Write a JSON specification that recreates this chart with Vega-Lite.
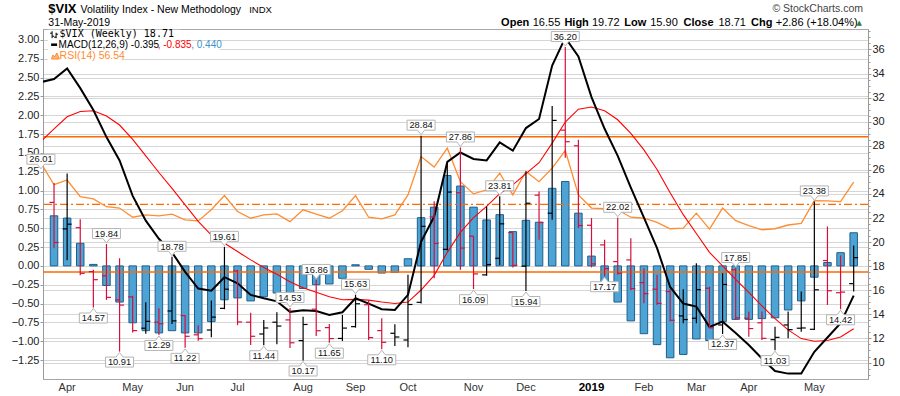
{
"$schema": "https://vega.github.io/schema/vega-lite/v6.json",
"width": 825, "height": 350,
"autosize": {"type": "none"},
"padding": {"left": 43, "top": 29, "right": 32, "bottom": 17},
"background": "#ffffff",
"config": {
  "view": {"stroke": "#a8a8a8", "strokeWidth": 1},
  "font": "Liberation Sans",
  "axis": {"labelFont": "Liberation Sans", "labelFontSize": 11, "labelColor": "#222222", "gridColor": "#d6d6d6", "gridWidth": 1, "domainColor": "#9a9a9a", "tickColor": "#9a9a9a"}
},
"datasets": {
"w": [
{"d":"2018-03-19","macd":2.44,"sig":1.65,"rsi":62.2},
{"d":"2018-03-26","o":23.3,"h":24.9,"l":19.5,"c":19.97,"dir":"down","macd":2.48,"sig":1.82,"hist":0.665,"rsi":55.8},
{"d":"2018-04-02","o":21.1,"h":25.7,"l":18.5,"c":21.49,"dir":"up","macd":2.62,"sig":1.98,"hist":0.635,"rsi":57.2},
{"d":"2018-04-09","o":21.2,"h":21.9,"l":17.25,"c":17.41,"dir":"down","macd":2.36,"sig":2.05,"hist":0.30,"rsi":52.3},
{"d":"2018-04-16","o":17.55,"h":17.7,"l":14.57,"c":16.88,"dir":"down","macd":2.07,"sig":2.06,"hist":0.02,"rsi":51.6},
{"d":"2018-04-23","o":17.2,"h":19.84,"l":15.2,"c":15.41,"dir":"down","macd":1.71,"sig":1.99,"hist":-0.26,"rsi":49.3},
{"d":"2018-04-30","o":15.2,"h":18.66,"l":10.91,"c":14.77,"dir":"down","macd":1.40,"sig":1.87,"hist":-0.48,"rsi":48.9},
{"d":"2018-05-07","o":15.45,"h":15.55,"l":12.5,"c":12.65,"dir":"down","macd":0.93,"sig":1.68,"hist":-0.755,"rsi":46.2},
{"d":"2018-05-14","o":12.85,"h":15.0,"l":12.4,"c":13.42,"dir":"up","macd":0.60,"sig":1.46,"hist":-0.86,"rsi":46.9},
{"d":"2018-05-21","o":13.35,"h":14.5,"l":12.29,"c":13.22,"dir":"down","macd":0.36,"sig":1.24,"hist":-0.89,"rsi":46.6},
{"d":"2018-05-28","o":14.28,"h":18.78,"l":13.2,"c":13.46,"dir":"up","macd":0.18,"sig":1.03,"hist":-0.86,"rsi":47.1},
{"d":"2018-06-04","o":13.9,"h":13.95,"l":11.22,"c":12.18,"dir":"down","macd":-0.08,"sig":0.81,"hist":-0.89,"rsi":45.4},
{"d":"2018-06-11","o":12.3,"h":13.1,"l":11.8,"c":11.98,"dir":"down","macd":-0.30,"sig":0.59,"hist":-0.89,"rsi":45.1},
{"d":"2018-06-18","o":12.7,"h":15.15,"l":12.1,"c":13.77,"dir":"up","macd":-0.33,"sig":0.41,"hist":-0.74,"rsi":48.4},
{"d":"2018-06-25","o":14.5,"h":19.61,"l":14.43,"c":16.09,"dir":"up","macd":-0.15,"sig":0.30,"hist":-0.45,"rsi":52.6},
{"d":"2018-07-02","o":17.6,"h":17.7,"l":13.1,"c":13.37,"dir":"down","macd":-0.23,"sig":0.19,"hist":-0.425,"rsi":47.9},
{"d":"2018-07-09","o":13.35,"h":14.14,"l":11.46,"c":12.18,"dir":"down","macd":-0.385,"sig":0.08,"hist":-0.465,"rsi":45.9},
{"d":"2018-07-16","o":12.37,"h":13.54,"l":11.44,"c":12.87,"dir":"up","macd":-0.43,"sig":-0.02,"hist":-0.41,"rsi":46.9},
{"d":"2018-07-23","o":13.35,"h":14.18,"l":11.52,"c":13.03,"dir":"up","macd":-0.47,"sig":-0.11,"hist":-0.36,"rsi":47.2},
{"d":"2018-07-30","o":13.54,"h":14.53,"l":11.2,"c":11.64,"dir":"down","macd":-0.61,"sig":-0.21,"hist":-0.39,"rsi":44.9},
{"d":"2018-08-06","o":11.82,"h":13.81,"l":10.17,"c":13.16,"dir":"up","macd":-0.59,"sig":-0.29,"hist":-0.30,"rsi":48.4},
{"d":"2018-08-13","o":14.43,"h":16.86,"l":12.2,"c":12.64,"dir":"down","macd":-0.60,"sig":-0.35,"hist":-0.25,"rsi":47.1},
{"d":"2018-08-20","o":12.9,"h":13.2,"l":11.65,"c":11.99,"dir":"down","macd":-0.65,"sig":-0.41,"hist":-0.24,"rsi":45.9},
{"d":"2018-08-27","o":12.0,"h":13.95,"l":11.79,"c":12.86,"dir":"up","macd":-0.615,"sig":-0.45,"hist":-0.165,"rsi":48.1},
{"d":"2018-09-03","o":12.98,"h":15.63,"l":12.9,"c":14.88,"dir":"up","macd":-0.43,"sig":-0.445,"hist":0.015,"rsi":52.6},
{"d":"2018-09-10","o":14.8,"h":15.2,"l":11.87,"c":12.07,"dir":"down","macd":-0.50,"sig":-0.455,"hist":-0.045,"rsi":46.2},
{"d":"2018-09-17","o":12.65,"h":13.68,"l":11.10,"c":11.68,"dir":"down","macd":-0.575,"sig":-0.48,"hist":-0.095,"rsi":45.7},
{"d":"2018-09-24","o":12.43,"h":13.18,"l":11.37,"c":12.12,"dir":"up","macd":-0.585,"sig":-0.50,"hist":-0.085,"rsi":46.9},
{"d":"2018-10-01","o":11.87,"h":17.28,"l":11.27,"c":14.82,"dir":"up","macd":-0.385,"sig":-0.48,"hist":0.095,"rsi":52.8},
{"d":"2018-10-08","o":15.0,"h":28.84,"l":14.9,"c":21.31,"dir":"up","macd":0.32,"sig":-0.32,"hist":0.64,"rsi":64.1},
{"d":"2018-10-15","o":22.1,"h":23.4,"l":17.0,"c":19.89,"dir":"down","macd":0.655,"sig":-0.125,"hist":0.78,"rsi":61.0},
{"d":"2018-10-22","o":19.4,"h":26.6,"l":19.3,"c":24.16,"dir":"up","macd":1.38,"sig":0.18,"hist":1.20,"rsi":66.6},
{"d":"2018-10-29","o":24.1,"h":27.86,"l":17.7,"c":19.51,"dir":"down","macd":1.505,"sig":0.445,"hist":1.06,"rsi":56.7},
{"d":"2018-11-05","o":20.5,"h":20.5,"l":16.09,"c":17.36,"dir":"down","macd":1.42,"sig":0.64,"hist":0.78,"rsi":53.1},
{"d":"2018-11-12","o":17.28,"h":22.96,"l":17.2,"c":18.14,"dir":"up","macd":1.40,"sig":0.79,"hist":0.61,"rsi":54.3},
{"d":"2018-11-19","o":18.66,"h":23.81,"l":18.1,"c":21.52,"dir":"up","macd":1.64,"sig":0.96,"hist":0.68,"rsi":59.2},
{"d":"2018-11-26","o":20.8,"h":20.8,"l":17.9,"c":18.07,"dir":"down","macd":1.53,"sig":1.075,"hist":0.455,"rsi":52.8},
{"d":"2018-12-03","o":18.0,"h":25.86,"l":15.94,"c":23.23,"dir":"up","macd":1.83,"sig":1.225,"hist":0.605,"rsi":59.7},
{"d":"2018-12-10","o":23.9,"h":24.2,"l":20.19,"c":21.63,"dir":"down","macd":1.95,"sig":1.37,"hist":0.58,"rsi":56.7},
{"d":"2018-12-17","o":22.4,"h":31.3,"l":21.85,"c":30.11,"dir":"up","macd":2.66,"sig":1.63,"hist":1.03,"rsi":60.7},
{"d":"2018-12-24","o":29.3,"h":36.20,"l":27.0,"c":28.34,"dir":"down","macd":3.03,"sig":1.91,"hist":1.12,"rsi":65.9},
{"d":"2018-12-31","o":28.0,"h":28.5,"l":21.16,"c":21.38,"dir":"down","macd":2.78,"sig":2.08,"hist":0.70,"rsi":52.8},
{"d":"2019-01-07","o":21.4,"h":22.0,"l":17.9,"c":18.19,"dir":"down","macd":2.24,"sig":2.11,"hist":0.13,"rsi":48.9},
{"d":"2019-01-14","o":19.77,"h":20.19,"l":17.17,"c":17.80,"dir":"down","macd":1.82,"sig":2.06,"hist":-0.24,"rsi":48.7},
{"d":"2019-01-21","o":18.38,"h":22.02,"l":17.28,"c":17.42,"dir":"down","macd":1.46,"sig":1.94,"hist":-0.48,"rsi":48.4},
{"d":"2019-01-28","o":18.52,"h":20.33,"l":16.0,"c":16.14,"dir":"down","macd":1.04,"sig":1.76,"hist":-0.73,"rsi":46.2},
{"d":"2019-02-04","o":16.64,"h":17.83,"l":14.92,"c":15.72,"dir":"down","macd":0.64,"sig":1.54,"hist":-0.90,"rsi":45.9},
{"d":"2019-02-11","o":16.09,"h":17.28,"l":14.78,"c":14.91,"dir":"down","macd":0.235,"sig":1.28,"hist":-1.045,"rsi":44.7},
{"d":"2019-02-18","o":15.9,"h":16.09,"l":13.4,"c":13.51,"dir":"down","macd":-0.28,"sig":0.97,"hist":-1.22,"rsi":42.8},
{"d":"2019-02-25","o":13.87,"h":16.09,"l":13.26,"c":13.57,"dir":"up","macd":-0.50,"sig":0.68,"hist":-1.175,"rsi":43.0},
{"d":"2019-03-04","o":13.68,"h":18.25,"l":13.26,"c":16.05,"dir":"up","macd":-0.54,"sig":0.43,"hist":-0.97,"rsi":47.4},
{"d":"2019-03-11","o":16.17,"h":16.3,"l":12.85,"c":12.88,"dir":"down","macd":-0.81,"sig":0.18,"hist":-0.99,"rsi":42.7},
{"d":"2019-03-18","o":13.12,"h":17.42,"l":12.37,"c":16.48,"dir":"up","macd":-0.74,"sig":0.00,"hist":-0.74,"rsi":48.9},
{"d":"2019-03-25","o":17.7,"h":17.85,"l":13.54,"c":13.71,"dir":"down","macd":-0.89,"sig":-0.18,"hist":-0.71,"rsi":45.2},
{"d":"2019-04-01","o":13.68,"h":14.23,"l":12.15,"c":12.82,"dir":"down","macd":-1.05,"sig":-0.35,"hist":-0.71,"rsi":43.7},
{"d":"2019-04-08","o":13.3,"h":14.23,"l":11.87,"c":12.01,"dir":"down","macd":-1.23,"sig":-0.53,"hist":-0.70,"rsi":42.5},
{"d":"2019-04-15","o":11.9,"h":12.98,"l":11.03,"c":12.09,"dir":"up","macd":-1.395,"sig":-0.70,"hist":-0.69,"rsi":42.8},
{"d":"2019-04-22","o":13.12,"h":14.23,"l":12.01,"c":12.73,"dir":"up","macd":-1.43,"sig":-0.85,"hist":-0.585,"rsi":43.9},
{"d":"2019-04-29","o":12.85,"h":15.9,"l":12.56,"c":12.87,"dir":"up","macd":-1.43,"sig":-0.965,"hist":-0.465,"rsi":44.4},
{"d":"2019-05-06","o":12.76,"h":23.38,"l":12.7,"c":16.04,"dir":"up","macd":-1.14,"sig":-1.00,"hist":-0.15,"rsi":51.1},
{"d":"2019-05-13","o":18.47,"h":21.3,"l":14.78,"c":15.96,"dir":"down","macd":-0.95,"sig":-0.99,"hist":0.045,"rsi":51.0},
{"d":"2019-05-20","o":15.8,"h":18.9,"l":14.42,"c":15.85,"dir":"down","macd":-0.76,"sig":-0.945,"hist":0.175,"rsi":50.8},
{"d":"2019-05-27","o":16.55,"h":19.72,"l":15.90,"c":18.71,"dir":"up","macd":-0.395,"sig":-0.835,"hist":0.44,"rsi":56.54}
],
"lab": [
{"d":"2018-03-19","v":26.01,"kind":"high"},
{"d":"2018-04-16","v":14.57,"kind":"low"},
{"d":"2018-04-23","v":19.84,"kind":"high"},
{"d":"2018-04-30","v":10.91,"kind":"low"},
{"d":"2018-05-21","v":12.29,"kind":"low"},
{"d":"2018-05-28","v":18.78,"kind":"high"},
{"d":"2018-06-04","v":11.22,"kind":"low"},
{"d":"2018-06-25","v":19.61,"kind":"high"},
{"d":"2018-07-16","v":11.44,"kind":"low"},
{"d":"2018-07-30","v":14.53,"kind":"high"},
{"d":"2018-08-06","v":10.17,"kind":"low"},
{"d":"2018-08-13","v":16.86,"kind":"high"},
{"d":"2018-08-20","v":11.65,"kind":"low"},
{"d":"2018-09-03","v":15.63,"kind":"high"},
{"d":"2018-09-17","v":11.10,"kind":"low"},
{"d":"2018-10-08","v":28.84,"kind":"high"},
{"d":"2018-10-29","v":27.86,"kind":"high"},
{"d":"2018-11-05","v":16.09,"kind":"low"},
{"d":"2018-11-19","v":23.81,"kind":"high"},
{"d":"2018-12-03","v":15.94,"kind":"low"},
{"d":"2018-12-24","v":36.20,"kind":"high"},
{"d":"2019-01-14","v":17.17,"kind":"low"},
{"d":"2019-01-21","v":22.02,"kind":"high"},
{"d":"2019-03-18","v":12.37,"kind":"low"},
{"d":"2019-03-25","v":17.85,"kind":"high"},
{"d":"2019-04-15","v":11.03,"kind":"low"},
{"d":"2019-05-06","v":23.38,"kind":"high"},
{"d":"2019-05-20","v":14.42,"kind":"low"}
],
"months": [
{"d":"2018-04-02","m":"Apr"},{"d":"2018-05-07","m":"May"},{"d":"2018-06-04","m":"Jun"},{"d":"2018-07-02","m":"Jul"},
{"d":"2018-08-06","m":"Aug"},{"d":"2018-09-03","m":"Sep"},{"d":"2018-10-01","m":"Oct"},{"d":"2018-11-05","m":"Nov"},
{"d":"2018-12-03","m":"Dec"},{"d":"2019-02-04","m":"Feb"},{"d":"2019-03-04","m":"Mar"},{"d":"2019-04-01","m":"Apr"},{"d":"2019-05-06","m":"May"}
],
"years": [{"d":"2019-01-07","m":"2019"}]
},
"resolve": {"scale": {"y": "independent"}},
"layer": [
{
 "data": {"name": "w"},
 "mark": {"type": "bar", "size": 7.5, "fill": "#4ea3d5", "stroke": "#1d5f8c", "strokeWidth": 1, "clip": true},
 "encoding": {
  "x": {"field": "d", "type": "temporal",
   "scale": {"type": "utc", "domain": [{"year":2018,"month":3,"date":22,"hours":18,"minutes":46,"utc":true},{"year":2019,"month":5,"date":31,"hours":23,"minutes":30,"utc":true}]},
   "axis": {"title": null, "grid": true, "labels": false, "ticks": true, "tickSize": 3, "domain": true,
    "values": [
     {"year":2018,"month":3,"date":26,"utc":true},
     {"year":2018,"month":4,"date":2,"utc":true},{"year":2018,"month":4,"date":9,"utc":true},{"year":2018,"month":4,"date":16,"utc":true},{"year":2018,"month":4,"date":23,"utc":true},{"year":2018,"month":4,"date":30,"utc":true},
     {"year":2018,"month":5,"date":7,"utc":true},{"year":2018,"month":5,"date":14,"utc":true},{"year":2018,"month":5,"date":21,"utc":true},{"year":2018,"month":5,"date":28,"utc":true},
     {"year":2018,"month":6,"date":4,"utc":true},{"year":2018,"month":6,"date":11,"utc":true},{"year":2018,"month":6,"date":18,"utc":true},{"year":2018,"month":6,"date":25,"utc":true},
     {"year":2018,"month":7,"date":2,"utc":true},{"year":2018,"month":7,"date":9,"utc":true},{"year":2018,"month":7,"date":16,"utc":true},{"year":2018,"month":7,"date":23,"utc":true},{"year":2018,"month":7,"date":30,"utc":true},
     {"year":2018,"month":8,"date":6,"utc":true},{"year":2018,"month":8,"date":13,"utc":true},{"year":2018,"month":8,"date":20,"utc":true},{"year":2018,"month":8,"date":27,"utc":true},
     {"year":2018,"month":9,"date":3,"utc":true},{"year":2018,"month":9,"date":10,"utc":true},{"year":2018,"month":9,"date":17,"utc":true},{"year":2018,"month":9,"date":24,"utc":true},
     {"year":2018,"month":10,"date":1,"utc":true},{"year":2018,"month":10,"date":8,"utc":true},{"year":2018,"month":10,"date":15,"utc":true},{"year":2018,"month":10,"date":22,"utc":true},{"year":2018,"month":10,"date":29,"utc":true},
     {"year":2018,"month":11,"date":5,"utc":true},{"year":2018,"month":11,"date":12,"utc":true},{"year":2018,"month":11,"date":19,"utc":true},{"year":2018,"month":11,"date":26,"utc":true},
     {"year":2018,"month":12,"date":3,"utc":true},{"year":2018,"month":12,"date":10,"utc":true},{"year":2018,"month":12,"date":17,"utc":true},{"year":2018,"month":12,"date":24,"utc":true},{"year":2018,"month":12,"date":31,"utc":true},
     {"year":2019,"month":1,"date":7,"utc":true},{"year":2019,"month":1,"date":14,"utc":true},{"year":2019,"month":1,"date":21,"utc":true},{"year":2019,"month":1,"date":28,"utc":true},
     {"year":2019,"month":2,"date":4,"utc":true},{"year":2019,"month":2,"date":11,"utc":true},{"year":2019,"month":2,"date":18,"utc":true},{"year":2019,"month":2,"date":25,"utc":true},
     {"year":2019,"month":3,"date":4,"utc":true},{"year":2019,"month":3,"date":11,"utc":true},{"year":2019,"month":3,"date":18,"utc":true},{"year":2019,"month":3,"date":25,"utc":true},
     {"year":2019,"month":4,"date":1,"utc":true},{"year":2019,"month":4,"date":8,"utc":true},{"year":2019,"month":4,"date":15,"utc":true},{"year":2019,"month":4,"date":22,"utc":true},{"year":2019,"month":4,"date":29,"utc":true},
     {"year":2019,"month":5,"date":6,"utc":true},{"year":2019,"month":5,"date":13,"utc":true},{"year":2019,"month":5,"date":20,"utc":true},{"year":2019,"month":5,"date":27,"utc":true}
    ],
    "gridOpacity": {"condition": {"test": "utcdate(datum.value) <= 7", "value": 1}, "value": 0},
    "gridColor": {"condition": {"test": "utcmonth(datum.value) == 0", "value": "#8c8c8c"}, "value": "#d6d6d6"}
   }},
  "y": {"field": "hist", "type": "quantitative", "scale": {"domain": [-1.5015, 3.145], "nice": false, "zero": false},
   "axis": {"orient": "left", "title": null, "grid": true, "format": ".2f", "tickSize": 3, "labelPadding": 1, "labelOverlap": false,
    "values": [-1.25,-1,-0.75,-0.5,-0.25,0,0.25,0.5,0.75,1,1.25,1.5,1.75,2,2.25,2.5,2.75,3]}},
  "y2": {"datum": 0}
 }
},
{
 "data": {"values": [{"lvl": 70}, {"lvl": 30}]},
 "mark": {"type": "rule", "color": "#ff6a00", "strokeWidth": 1.5},
 "encoding": {"y": {"field": "lvl", "type": "quantitative", "scale": {"domain": [-1.58, 101.79], "nice": false, "zero": false}, "axis": null}}
},
{
 "data": {"values": [{"lvl": 50}]},
 "mark": {"type": "rule", "color": "#ff6a00", "strokeWidth": 1.3, "strokeDash": [8, 3, 2, 3]},
 "encoding": {"y": {"field": "lvl", "type": "quantitative", "scale": {"domain": [-1.58, 101.79], "nice": false, "zero": false}, "axis": null}}
},
{
 "data": {"name": "w"},
 "mark": {"type": "line", "color": "#ff8c30", "strokeWidth": 1.3, "clip": true},
 "encoding": {
  "x": {"field": "d", "type": "temporal", "axis": null},
  "y": {"field": "rsi", "type": "quantitative", "scale": {"domain": [-1.58, 101.79], "nice": false, "zero": false}, "axis": null}
 }
},
{
 "data": {"name": "w"},
 "mark": {"type": "line", "color": "#ff0000", "strokeWidth": 1.1, "clip": true},
 "encoding": {
  "x": {"field": "d", "type": "temporal", "axis": null},
  "y": {"field": "sig", "type": "quantitative", "scale": {"domain": [-1.5015, 3.145], "nice": false, "zero": false}, "axis": null}
 }
},
{
 "data": {"name": "w"},
 "mark": {"type": "line", "color": "#000000", "strokeWidth": 2, "clip": true},
 "encoding": {
  "x": {"field": "d", "type": "temporal", "axis": null},
  "y": {"field": "macd", "type": "quantitative", "scale": {"domain": [-1.5015, 3.145], "nice": false, "zero": false}, "axis": null}
 }
},
{
 "data": {"name": "w"},
 "mark": {"type": "rule", "strokeWidth": 1.2, "clip": true},
 "encoding": {
  "x": {"field": "d", "type": "temporal", "axis": null},
  "y": {"field": "l", "type": "quantitative", "scale": {"domain": [8.632, 37.70], "nice": false, "zero": false},
   "axis": {"orient": "right", "title": null, "grid": true, "labelOverlap": false, "labelPadding": 1,
    "values": [9,9.5,10,10.5,11,11.5,12,12.5,13,13.5,14,14.5,15,15.5,16,16.5,17,17.5,18,18.5,19,19.5,20,20.5,21,21.5,22,22.5,23,23.5,24,24.5,25,25.5,26,26.5,27,27.5,28,28.5,29,29.5,30,30.5,31,31.5,32,32.5,33,33.5,34,34.5,35,35.5,36,36.5,37,37.5],
    "labelExpr": "datum.value % 2 == 0 ? format(datum.value, 'd') : ''",
    "tickSize": {"condition": {"test": "datum.value % 2 == 0", "value": 3}, "value": 2},
    "gridOpacity": {"condition": {"test": "datum.value % 2 == 0", "value": 1}, "value": 0}}},
  "y2": {"field": "h"},
  "color": {"field": "dir", "type": "nominal", "scale": {"domain": ["up", "down"], "range": ["#000000", "#d60f3c"]}, "legend": null}
 }
},
{
 "data": {"name": "w"},
 "mark": {"type": "rule", "strokeWidth": 1.2, "xOffset": -4.5, "x2Offset": 0, "clip": true},
 "encoding": {
  "x": {"field": "d", "type": "temporal", "axis": null},
  "x2": {"field": "d"},
  "y": {"field": "o", "type": "quantitative", "scale": {"domain": [8.632, 37.70], "nice": false, "zero": false}, "axis": null},
  "color": {"field": "dir", "type": "nominal", "scale": {"domain": ["up", "down"], "range": ["#000000", "#d60f3c"]}, "legend": null}
 }
},
{
 "data": {"name": "w"},
 "mark": {"type": "rule", "strokeWidth": 1.2, "xOffset": 0, "x2Offset": 4.5, "clip": true},
 "encoding": {
  "x": {"field": "d", "type": "temporal", "axis": null},
  "x2": {"field": "d"},
  "y": {"field": "c", "type": "quantitative", "scale": {"domain": [8.632, 37.70], "nice": false, "zero": false}, "axis": null},
  "color": {"field": "dir", "type": "nominal", "scale": {"domain": ["up", "down"], "range": ["#000000", "#d60f3c"]}, "legend": null}
 }
},
{
 "data": {"name": "lab"},
 "mark": {"type": "point", "filled": true, "fill": "#ffffff", "stroke": "#b5b5b5", "strokeWidth": 1, "size": 4, "opacity": 1},
 "encoding": {
  "x": {"field": "d", "type": "temporal", "axis": null},
  "y": {"field": "v", "type": "quantitative", "scale": {"domain": [8.632, 37.70], "nice": false, "zero": false}, "axis": null},
  "shape": {"field": "kind", "type": "nominal", "legend": null,
   "scale": {"domain": ["high", "low"], "range": ["M-14,-15.5H14V-5.5H3.5L0,-1L-3.5,-5.5H-14Z", "M-14,15.5H14V5.5H3.5L0,1L-3.5,5.5H-14Z"]}}
 }
},
{
 "data": {"name": "lab"},
 "transform": [{"filter": "datum.kind == 'high'"}],
 "mark": {"type": "text", "dy": -10.3, "fontSize": 9.3, "font": "Liberation Sans", "color": "#111111", "baseline": "middle", "align": "center"},
 "encoding": {
  "x": {"field": "d", "type": "temporal", "axis": null},
  "y": {"field": "v", "type": "quantitative", "scale": {"domain": [8.632, 37.70], "nice": false, "zero": false}, "axis": null},
  "text": {"field": "v", "type": "quantitative", "format": ".2f"}
 }
},
{
 "data": {"name": "lab"},
 "transform": [{"filter": "datum.kind == 'low'"}],
 "mark": {"type": "text", "dy": 10.5, "fontSize": 9.3, "font": "Liberation Sans", "color": "#111111", "baseline": "middle", "align": "center"},
 "encoding": {
  "x": {"field": "d", "type": "temporal", "axis": null},
  "y": {"field": "v", "type": "quantitative", "scale": {"domain": [8.632, 37.70], "nice": false, "zero": false}, "axis": null},
  "text": {"field": "v", "type": "quantitative", "format": ".2f"}
 }
},
{
 "data": {"name": "months"},
 "mark": {"type": "text", "fontSize": 11, "font": "Liberation Sans", "color": "#333333", "baseline": "alphabetic", "align": "center"},
 "encoding": {
  "x": {"field": "d", "type": "temporal", "axis": null},
  "y": {"datum": 7.62, "type": "quantitative", "scale": {"domain": [8.632, 37.70], "nice": false, "zero": false}, "axis": null},
  "text": {"field": "m", "type": "nominal"}
 }
},
{
 "data": {"name": "years"},
 "mark": {"type": "text", "fontSize": 11.5, "fontWeight": "bold", "font": "Liberation Sans", "color": "#000000", "baseline": "alphabetic", "align": "center"},
 "encoding": {
  "x": {"field": "d", "type": "temporal", "axis": null},
  "y": {"datum": 7.62, "type": "quantitative", "scale": {"domain": [8.632, 37.70], "nice": false, "zero": false}, "axis": null},
  "text": {"field": "m", "type": "nominal"}
 }
},
{
 "data": {"values": [{}]},
 "mark": {"type": "rect", "fill": "#ffffff"},
 "encoding": {
  "x": {"datum": {"year":2018,"month":3,"date":22,"hours":19,"utc":true}, "type": "temporal", "axis": null},
  "x2": {"datum": {"year":2018,"month":6,"date":1,"hours":3,"minutes":35,"utc":true}},
  "y": {"datum": 37.64, "type": "quantitative", "scale": {"domain": [8.632, 37.70], "nice": false, "zero": false}, "axis": null},
  "y2": {"datum": 36.687}
 }
},
{
 "data": {"values": [{}]},
 "mark": {"type": "rect", "fill": "#ffffff"},
 "encoding": {
  "x": {"datum": {"year":2018,"month":3,"date":22,"hours":19,"utc":true}, "type": "temporal", "axis": null},
  "x2": {"datum": {"year":2018,"month":6,"date":22,"hours":10,"utc":true}},
  "y": {"datum": 36.687, "type": "quantitative", "scale": {"domain": [8.632, 37.70], "nice": false, "zero": false}, "axis": null},
  "y2": {"datum": 35.856}
 }
},
{
 "data": {"values": [{}]},
 "mark": {"type": "rect", "fill": "#ffffff"},
 "encoding": {
  "x": {"datum": {"year":2018,"month":3,"date":22,"hours":19,"utc":true}, "type": "temporal", "axis": null},
  "x2": {"datum": {"year":2018,"month":5,"date":1,"hours":4,"utc":true}},
  "y": {"datum": 35.856, "type": "quantitative", "scale": {"domain": [8.632, 37.70], "nice": false, "zero": false}, "axis": null},
  "y2": {"datum": 35.024}
 }
},
{
 "data": {"values": [{}]},
 "mark": {"type": "point", "filled": false, "color": "#000000", "strokeWidth": 1, "size": 4, "opacity": 1, "shape": "M-2,-3.5V3.5M-4,-1.5H-2M-2,1.5H0M2,-2V3.5M0,2.5H2M2,-0.5H4"},
 "encoding": {
  "x": {"datum": {"year":2018,"month":3,"date":26,"hours":1,"utc":true}, "type": "temporal", "axis": null},
  "y": {"datum": 37.227, "type": "quantitative", "scale": {"domain": [8.632, 37.70], "nice": false, "zero": false}, "axis": null}
 }
},
{
 "data": {"values": [{}]},
 "mark": {"type": "point", "filled": false, "color": "#000000", "strokeWidth": 2.5, "size": 4, "opacity": 1, "shape": "M-3,0H3"},
 "encoding": {
  "x": {"datum": {"year":2018,"month":3,"date":26,"hours":1,"utc":true}, "type": "temporal", "axis": null},
  "y": {"datum": 36.396, "type": "quantitative", "scale": {"domain": [8.632, 37.70], "nice": false, "zero": false}, "axis": null}
 }
},
{
 "data": {"values": [{}]},
 "mark": {"type": "point", "filled": true, "fill": "#ffb47a", "stroke": "#ff8c30", "strokeWidth": 1, "size": 4, "opacity": 1, "shape": "M-4,3L-2.5,-1L-1,1L1.5,-3L4,3Z"},
 "encoding": {
  "x": {"datum": {"year":2018,"month":3,"date":26,"hours":18,"utc":true}, "type": "temporal", "axis": null},
  "y": {"datum": 35.457, "type": "quantitative", "scale": {"domain": [8.632, 37.70], "nice": false, "zero": false}, "axis": null}
 }
},
{
 "data": {"values": [{}]},
 "mark": {"type": "text", "text": "$VIX (Weekly) 18.71", "font": "DejaVu Sans Mono", "fontSize": 10, "color": "#000000", "align": "left", "baseline": "alphabetic"},
 "encoding": {
  "x": {"datum": {"year":2018,"month":3,"date":28,"hours":23,"utc":true}, "type": "temporal", "axis": null},
  "y": {"datum": 37.02, "type": "quantitative", "scale": {"domain": [8.632, 37.70], "nice": false, "zero": false}, "axis": null}
 }
},
{
 "data": {"values": [{}]},
 "mark": {"type": "text", "text": "MACD(12,26,9) -0.395", "font": "Liberation Sans", "fontSize": 10, "color": "#000000", "align": "left", "baseline": "alphabetic"},
 "encoding": {
  "x": {"datum": {"year":2018,"month":3,"date":28,"hours":10,"utc":true}, "type": "temporal", "axis": null},
  "y": {"datum": 36.11, "type": "quantitative", "scale": {"domain": [8.632, 37.70], "nice": false, "zero": false}, "axis": null}
 }
},
{
 "data": {"values": [{}]},
 "mark": {"type": "text", "text": ", -0.835", "font": "Liberation Sans", "fontSize": 10, "color": "#ff0000", "align": "left", "baseline": "alphabetic"},
 "encoding": {
  "x": {"datum": {"year":2018,"month":5,"date":20,"hours":8,"utc":true}, "type": "temporal", "axis": null},
  "y": {"datum": 36.11, "type": "quantitative", "scale": {"domain": [8.632, 37.70], "nice": false, "zero": false}, "axis": null}
 }
},
{
 "data": {"values": [{}]},
 "mark": {"type": "text", "text": ", 0.440", "font": "Liberation Sans", "fontSize": 10, "color": "#3a94cf", "align": "left", "baseline": "alphabetic"},
 "encoding": {
  "x": {"datum": {"year":2018,"month":6,"date":7,"hours":6,"utc":true}, "type": "temporal", "axis": null},
  "y": {"datum": 36.11, "type": "quantitative", "scale": {"domain": [8.632, 37.70], "nice": false, "zero": false}, "axis": null}
 }
},
{
 "data": {"values": [{}]},
 "mark": {"type": "text", "text": "RSI(14) 56.54", "font": "Liberation Sans", "fontSize": 10.5, "color": "#ff8c30", "align": "left", "baseline": "alphabetic"},
 "encoding": {
  "x": {"datum": {"year":2018,"month":3,"date":28,"hours":23,"utc":true}, "type": "temporal", "axis": null},
  "y": {"datum": 35.19, "type": "quantitative", "scale": {"domain": [8.632, 37.70], "nice": false, "zero": false}, "axis": null}
 }
},
{
 "data": {"values": [{}]},
 "mark": {"type": "text", "text": "$VIX", "font": "Liberation Sans", "fontSize": 13, "fontWeight": "bold", "color": "#000000", "align": "left", "baseline": "alphabetic"},
 "encoding": {
  "x": {"datum": {"year":2018,"month":3,"date":22,"hours":22,"minutes":40,"utc":true}, "type": "temporal", "axis": null},
  "y": {"datum": 39.03, "type": "quantitative", "scale": {"domain": [8.632, 37.70], "nice": false, "zero": false}, "axis": null}
 }
},
{
 "data": {"values": [{}]},
 "mark": {"type": "text", "text": "Volatility Index - New Methodology", "font": "Liberation Sans", "fontSize": 10.5, "color": "#000000", "align": "left", "baseline": "alphabetic"},
 "encoding": {
  "x": {"datum": {"year":2018,"month":4,"date":9,"hours":4,"minutes":35,"utc":true}, "type": "temporal", "axis": null},
  "y": {"datum": 39.03, "type": "quantitative", "scale": {"domain": [8.632, 37.70], "nice": false, "zero": false}, "axis": null}
 }
},
{
 "data": {"values": [{}]},
 "mark": {"type": "text", "text": "INDX", "font": "Liberation Sans", "fontSize": 9.5, "color": "#000000", "align": "left", "baseline": "alphabetic"},
 "encoding": {
  "x": {"datum": {"year":2018,"month":7,"date":8,"hours":5,"minutes":35,"utc":true}, "type": "temporal", "axis": null},
  "y": {"datum": 39.03, "type": "quantitative", "scale": {"domain": [8.632, 37.70], "nice": false, "zero": false}, "axis": null}
 }
},
{
 "data": {"values": [{}]},
 "mark": {"type": "text", "text": "31-May-2019", "font": "Liberation Sans", "fontSize": 10.5, "color": "#000000", "align": "left", "baseline": "alphabetic"},
 "encoding": {
  "x": {"datum": {"year":2018,"month":3,"date":22,"hours":22,"minutes":40,"utc":true}, "type": "temporal", "axis": null},
  "y": {"datum": 37.975, "type": "quantitative", "scale": {"domain": [8.632, 37.70], "nice": false, "zero": false}, "axis": null}
 }
},
{
 "data": {"values": [{}]},
 "mark": {"type": "text", "text": "© StockCharts.com", "font": "Liberation Sans", "fontSize": 10.5, "color": "#444444", "align": "right", "baseline": "alphabetic"},
 "encoding": {
  "x": {"datum": {"year":2019,"month":5,"date":31,"hours":23,"minutes":30,"utc":true}, "type": "temporal", "axis": null},
  "y": {"datum": 39.10, "type": "quantitative", "scale": {"domain": [8.632, 37.70], "nice": false, "zero": false}, "axis": null}
 }
},
{
 "data": {"values": [{}]},
 "mark": {"type": "text", "text": "Open", "font": "Liberation Sans", "fontSize": 11, "fontWeight": "bold", "color": "#000000", "align": "left", "baseline": "alphabetic"},
 "encoding": {
  "x": {"datum": {"year":2018,"month":11,"date":19,"hours":17,"minutes":45,"utc":true}, "type": "temporal", "axis": null},
  "y": {"datum": 37.975, "type": "quantitative", "scale": {"domain": [8.632, 37.70], "nice": false, "zero": false}, "axis": null}
 }
},
{
 "data": {"values": [{}]},
 "mark": {"type": "text", "text": "16.55", "font": "Liberation Sans", "fontSize": 11, "color": "#000000", "align": "left", "baseline": "alphabetic"},
 "encoding": {
  "x": {"datum": {"year":2018,"month":12,"date":6,"hours":15,"utc":true}, "type": "temporal", "axis": null},
  "y": {"datum": 37.975, "type": "quantitative", "scale": {"domain": [8.632, 37.70], "nice": false, "zero": false}, "axis": null}
 }
},
{
 "data": {"values": [{}]},
 "mark": {"type": "text", "text": "High", "font": "Liberation Sans", "fontSize": 11, "fontWeight": "bold", "color": "#000000", "align": "left", "baseline": "alphabetic"},
 "encoding": {
  "x": {"datum": {"year":2018,"month":12,"date":23,"hours":12,"minutes":45,"utc":true}, "type": "temporal", "axis": null},
  "y": {"datum": 37.975, "type": "quantitative", "scale": {"domain": [8.632, 37.70], "nice": false, "zero": false}, "axis": null}
 }
},
{
 "data": {"values": [{}]},
 "mark": {"type": "text", "text": "19.72", "font": "Liberation Sans", "fontSize": 11, "color": "#000000", "align": "left", "baseline": "alphabetic"},
 "encoding": {
  "x": {"datum": {"year":2019,"month":1,"date":7,"hours":6,"minutes":20,"utc":true}, "type": "temporal", "axis": null},
  "y": {"datum": 37.975, "type": "quantitative", "scale": {"domain": [8.632, 37.70], "nice": false, "zero": false}, "axis": null}
 }
},
{
 "data": {"values": [{}]},
 "mark": {"type": "text", "text": "Low", "font": "Liberation Sans", "fontSize": 11, "fontWeight": "bold", "color": "#000000", "align": "left", "baseline": "alphabetic"},
 "encoding": {
  "x": {"datum": {"year":2019,"month":1,"date":24,"hours":12,"minutes":45,"utc":true}, "type": "temporal", "axis": null},
  "y": {"datum": 37.975, "type": "quantitative", "scale": {"domain": [8.632, 37.70], "nice": false, "zero": false}, "axis": null}
 }
},
{
 "data": {"values": [{}]},
 "mark": {"type": "text", "text": "15.90", "font": "Liberation Sans", "fontSize": 11, "color": "#000000", "align": "left", "baseline": "alphabetic"},
 "encoding": {
  "x": {"datum": {"year":2019,"month":2,"date":7,"hours":9,"utc":true}, "type": "temporal", "axis": null},
  "y": {"datum": 37.975, "type": "quantitative", "scale": {"domain": [8.632, 37.70], "nice": false, "zero": false}, "axis": null}
 }
},
{
 "data": {"values": [{}]},
 "mark": {"type": "text", "text": "Close", "font": "Liberation Sans", "fontSize": 11, "fontWeight": "bold", "color": "#000000", "align": "left", "baseline": "alphabetic"},
 "encoding": {
  "x": {"datum": {"year":2019,"month":2,"date":25,"hours":4,"utc":true}, "type": "temporal", "axis": null},
  "y": {"datum": 37.975, "type": "quantitative", "scale": {"domain": [8.632, 37.70], "nice": false, "zero": false}, "axis": null}
 }
},
{
 "data": {"values": [{}]},
 "mark": {"type": "text", "text": "18.71", "font": "Liberation Sans", "fontSize": 11, "color": "#000000", "align": "left", "baseline": "alphabetic"},
 "encoding": {
  "x": {"datum": {"year":2019,"month":3,"date":15,"hours":19,"utc":true}, "type": "temporal", "axis": null},
  "y": {"datum": 37.975, "type": "quantitative", "scale": {"domain": [8.632, 37.70], "nice": false, "zero": false}, "axis": null}
 }
},
{
 "data": {"values": [{}]},
 "mark": {"type": "text", "text": "Chg", "font": "Liberation Sans", "fontSize": 11, "fontWeight": "bold", "color": "#000000", "align": "left", "baseline": "alphabetic"},
 "encoding": {
  "x": {"datum": {"year":2019,"month":4,"date":2,"hours":5,"utc":true}, "type": "temporal", "axis": null},
  "y": {"datum": 37.975, "type": "quantitative", "scale": {"domain": [8.632, 37.70], "nice": false, "zero": false}, "axis": null}
 }
},
{
 "data": {"values": [{}]},
 "mark": {"type": "text", "text": "+2.86 (+18.04%)", "font": "Liberation Sans", "fontSize": 11, "color": "#000000", "align": "left", "baseline": "alphabetic"},
 "encoding": {
  "x": {"datum": {"year":2019,"month":4,"date":15,"hours":9,"utc":true}, "type": "temporal", "axis": null},
  "y": {"datum": 37.975, "type": "quantitative", "scale": {"domain": [8.632, 37.70], "nice": false, "zero": false}, "axis": null}
 }
},
{
 "data": {"values": [{}]},
 "mark": {"type": "text", "text": "▲", "font": "DejaVu Sans", "fontSize": 7, "color": "#2e7d32", "align": "left", "baseline": "alphabetic"},
 "encoding": {
  "x": {"datum": {"year":2019,"month":5,"date":28,"hours":11,"minutes":30,"utc":true}, "type": "temporal", "axis": null},
  "y": {"datum": 38.06, "type": "quantitative", "scale": {"domain": [8.632, 37.70], "nice": false, "zero": false}, "axis": null}
 }
}
]
}
